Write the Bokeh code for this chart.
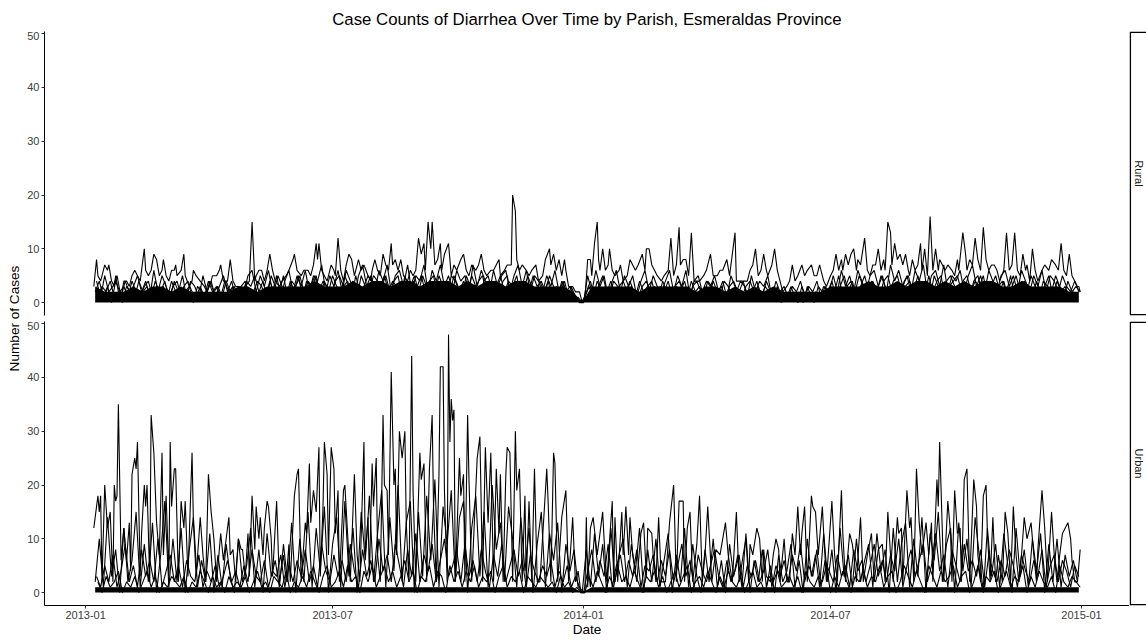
import numpy as np
import pandas as pd
from math import pi
from bokeh.plotting import figure
from bokeh.layouts import row, column
from bokeh.models import Range1d, FixedTicker, DatetimeTickFormatter
from bokeh.core.properties import value
from bokeh.embed import file_html
from bokeh.resources import INLINE

# ---------------- data ----------------
ORIGIN = "2013-01-01"          # day 0 of the day offsets below
title_text = "Case Counts of Diarrhea Over Time by Parish, Esmeraldas Province"
x_title = "Date"
y_title = "Number of Cases"
facets = ["Rural", "Urban"]
y_ticks = [0, 10, 20, 30, 40, 50]
x_tick_dates = ["2013-01-01", "2013-07-01", "2014-01-01", "2014-07-01", "2015-01-01"]

# Urban: highest parish line, (day offset, cases)
urban_peak = [
    (6,12),(9,18),(10,15),(11,18),(12,2),(14,20),(16,12),(18,15),(20,2),(21,20),(22,17),(23,18),(24,35),(26,6),
    (28,12),(30,6),(32,13),(33,4),(34,22),(36,25),(37,23),(38,28),(40,3),(41,11),(43,20),(44,16),(45,20),(47,2),
    (48,33),(50,26),(52,13),(54,7),(56,26),(57,7),(59,18),(61,3),(62,28),(63,16),(65,23),(66,23),(68,2),(70,17),
    (72,12),(73,17),(75,3),(78,26),(79,13),(81,3),(84,14),(86,7),(88,2),(90,22),(92,15),(94,10),(96,2),(99,11),
    (101,6),(105,14),(106,7),(108,8),(110,2),(112,10),(114,8),(115,8),(117,3),(119,11),(120,3),(122,18),(124,8),
    (125,16),(127,10),(128,14),(130,7),(131,12),(133,17),(134,16),(136,10),(137,3),(140,17),(142,2),(145,7),
    (147,2),(149,9),(150,2),(153,18),(155,22),(156,23),(158,2),(161,13),(162,11),(164,24),(165,13),(167,19),
    (169,15),(171,27),(172,3),(174,16),(175,28),(177,22),(178,7),(180,27),(182,23),(183,11),(185,19),(186,2),
    (189,19),(190,20),(192,11),(194,2),(197,22),(199,7),(201,2),(204,28),(205,7),(207,14),(208,3),(210,24),
    (211,16),(213,25),(214,7),(216,2),(218,33),(219,20),(221,19),(222,7),(224,41),(226,20),(227,23),(228,7),
    (230,30),(232,25),(234,30),(235,13),(237,2),(239,44),(240,19),(242,2),(245,26),(246,21),(248,24),(250,2),
    (252,23),(254,33),(255,16),(257,2),(259,22),(260,42),(262,42),(263,19),(265,2),(266,48),(267,28),(268,36),
    (269,32),(270,34),(271,2),(274,25),(275,18),(277,22),(278,2),(280,33),(281,21),(283,2),(287,25),(289,29),
    (291,2),(293,27),(295,13),(297,26),(299,2),(301,23),(303,11),(304,22),(306,2),(308,22),(309,27),(311,26),
    (313,2),(315,30),(316,19),(318,23),(320,2),(322,18),(323,2),(325,17),(327,2),(329,23),(331,2),(333,2),
    (338,23),(339,17),(341,2),(343,26),(344,24),(346,2),(349,14),(352,19),(354,2),(357,14),(359,2),(361,4),
    (363,0),(366,0),(367,14),(368,1),(370,12),(372,14),(375,7),(379,15),(380,10),(382,2),(386,17),(387,2),
    (388,14),(390,2),(393,15),(394,7),(396,16),(398,7),(399,14),(401,7),(404,2),(407,11),(409,13),(411,3),
    (412,12),(415,11),(416,7),(418,2),(420,14),(422,2),(425,2),(428,13),(431,20),(433,2),(435,17),(438,17),
    (439,2),(441,12),(443,15),(445,2),(448,9),(450,18),(452,2),(454,7),(456,16),(459,2),(462,8),(465,7),
    (469,13),(471,7),(474,2),(477,15),(479,2),(482,7),(484,10),(486,2),(487,9),(489,7),(492,12),(494,10),
    (496,2),(497,8),(499,3),(502,2),(504,7),(506,10),(508,8),(509,2),(512,10),(514,2),(516,2),(518,11),
    (520,7),(522,16),(524,7),(525,11),(527,16),(529,2),(532,18),(533,16),(535,15),(537,7),(540,16),(541,11),
    (543,2),(547,17),(549,7),(551,2),(554,19),(555,11),(557,2),(560,11),(562,9),(563,7),(565,2),(568,14),
    (570,2),(573,7),(576,11),(578,2),(581,8),(584,9),(586,2),(588,15),(590,7),(592,2),(595,14),(596,11),
    (598,12),(599,2),(602,19),(604,12),(605,14),(607,2),(609,23),(611,13),(613,7),(616,13),(618,7),(620,13),
    (621,2),(624,21),(625,16),(626,28),(628,11),(629,2),(632,17),(634,11),(635,2),(637,19),(639,11),(641,12),
    (642,2),(644,21),(646,23),(647,13),(648,2),(651,21),(653,16),(654,7),(656,2),(658,18),(660,20),(661,11),
    (663,2),(665,14),(667,2),(669,7),(672,2),(674,15),(676,11),(678,2),(680,16),(682,7),(684,2),(686,7),
    (688,14),(690,10),(693,13),(695,7),(697,2),(698,8),(701,19),(703,12),(705,2),(708,15),(710,7),(712,2),
    (714,7),(716,11),(720,13),(722,10),(723,6),(725,2),(727,2),(729,8),
]

# Urban: second-highest parish, every 3 days from 2013-01-08
urban_second_start = "2013-01-08"
urban_second = [
    2,10,1,14,3,8,0,12,2,6, 15,1,9,2,13,0,7,17,1,10, 2,12,0,8,14,1,6,2,11,0, 7,1,9,3,0,10,2,5,12,1,
    8,0,11,3,6,1,9,2,13,0, 10,2,15,1,12,4,16,0,9,14, 1,17,3,12,0,15,6,18,2,11, 19,1,14,4,20,2,13,17,0,15,
    3,18,6,21,1,16,9,19,2,14, 17,0,12,18,3,15,1,20,8,13, 2,16,10,1,14,4,12,0,9,15, 1,11,6,13,0,9,4,8,1,0,
    8,1,11,3,9,0,12,2,7,10, 1,9,4,12,0,8,2,10,1,6, 11,0,7,2,12,1,9,3,0,8, 2,10,1,6,0,9,3,7,1,11,
    0,6,2,8,1,5,0,7,2,4, 9,1,6,0,10,3,7,1,11,2, 8,0,12,3,7,1,10,2,6,9, 1,11,4,8,0,12,2,9,13,1,
    10,3,14,0,11,6,15,2,9,12, 0,13,4,10,1,14,7,0,12,3, 9,1,11,5,0,12,3,8,1,10, 4,11,0,9,2,10,1,7,3,6, 2,
]

# Urban: mid-level parishes, every 3 days from 2013-01-09
urban_mid_start = "2013-01-09"
urban_mid = [
    3,1,5,2,7,1,4,9,2,5, 1,8,3,6,2,10,1,4,7,2, 5,1,6,3,2,7,1,4,2,5, 1,3,6,2,4,1,5,2,8,3,
    2,6,1,4,3,7,1,5,2,6, 3,8,2,5,1,9,4,2,7,3, 6,2,9,4,1,8,3,6,2,10, 4,7,2,9,5,1,8,3,11,2,
    7,4,9,2,6,10,3,5,8,2, 9,3,6,2,8,4,1,7,3,9, 2,5,8,3,6,1,7,4,2,5, 3,6,1,4,2,5,1,3,1,0,
    4,8,2,6,3,9,1,5,7,2, 6,3,8,1,5,4,7,2,6,3, 8,2,5,9,3,6,1,7,4,2, 5,8,3,1,6,2,4,7,1,5,
    3,6,2,4,8,1,5,3,6,2, 7,4,9,2,5,3,8,1,6,4, 2,7,3,5,1,8,4,6,2,5, 9,3,6,2,7,4,10,1,5,8,
    3,6,9,2,5,11,4,7,1,8, 5,2,9,4,6,3,8,1,7,4, 2,6,3,8,5,1,7,4,2,6, 3,8,1,5,7,2,6,4,1,5, 3,
]

# Urban: low-count parishes, every 3 days from 2013-01-10
urban_low_start = "2013-01-10"
urban_low = [
    2,0,3,1,2,4,0,2,1,3, 0,2,4,1,3,0,2,1,3,2, 1,3,0,2,1,4,2,0,3,1, 2,0,3,1,2,1,3,0,2,4,
    1,2,0,3,2,1,4,0,2,1, 3,1,4,2,0,3,5,1,2,4, 1,5,2,3,0,4,2,5,1,3, 5,2,4,1,3,6,2,4,0,3,
    2,5,1,4,3,0,5,2,4,1, 4,2,5,1,3,2,4,0,3,5, 1,3,2,4,0,3,2,1,3,2, 1,2,0,3,1,2,0,1,0,0,
    3,1,4,2,0,3,1,5,2,3, 1,4,2,0,3,2,4,1,3,0, 2,4,1,3,5,0,2,3,1,4, 2,0,3,1,4,2,1,3,0,2,
    4,1,2,0,3,2,4,1,2,3, 1,3,0,4,2,1,3,2,5,0, 3,1,4,2,0,3,2,4,1,3, 2,5,1,3,4,0,2,5,3,1,
    4,2,0,5,3,1,4,2,3,5, 1,3,4,0,2,5,1,3,2,4, 0,2,4,1,3,2,5,0,3,1, 4,2,1,3,0,5,2,1,3,2, 1,
]

# Urban: weekly floor of the many near-zero parishes, from 2013-01-08
urban_floor_start = "2013-01-08"
urban_floor = [
    1,1,1,1,1,1,1,1,1,1, 1,1,1,1,1,1,1,1,1,1, 1,1,1,1,1,1,1,1,1,1, 1,1,1,1,1,1,1,1,1,1,
    1,1,1,1,1,1,1,1,1,1, 1,0,1,1,1,1,1,1,1,1, 1,1,1,1,1,1,1,1,1,1, 1,1,1,1,1,1,1,1,1,1,
    1,1,1,1,1,1,1,1,1,1, 1,1,1,1,1,1,1,1,1,1, 1,1,1,1,
]

# Rural: upper envelope of the parish lines, (day offset, cases)
rural_peak = [
    (6,3),(8,8),(9,5),(11,4),(13,6),(14,7),(16,6),(17,7),(19,4),(21,3),(22,5),(24,2),(26,1),(28,4),(30,4),
    (32,3),(34,5),(36,6),(38,5),(40,4),(43,10),(44,6),(46,5),(48,6),(50,9),(52,8),(54,5),(56,6),(57,8),(59,5),
    (61,4),(63,6),(65,6),(66,7),(67,5),(70,6),(72,9),(73,5),(76,3),(78,4),(79,6),(81,5),(84,4),(87,3),(89,2),
    (92,4),(93,5),(96,5),(98,6),(99,7),(101,4),(104,4),(106,8),(108,4),(110,3),(112,3),(115,2),(117,3),(120,4),
    (122,15),(124,4),(125,5),(127,6),(129,6),(131,4),(133,6),(135,9),(137,6),(139,4),(142,3),(144,4),(147,5),
    (149,6),(152,8),(153,9),(155,6),(158,5),(160,6),(163,6),(165,5),(167,7),(169,11),(170,8),(171,11),(173,6),
    (175,5),(177,4),(180,7),(182,6),(183,5),(185,12),(187,6),(189,4),(191,7),(193,9),(195,8),(197,5),(198,6),
    (200,8),(202,6),(204,7),(207,5),(209,4),(210,6),(212,8),(214,6),(216,5),(218,9),(220,7),(222,6),(224,11),
    (225,7),(227,8),(229,6),(231,8),(233,5),(236,4),(238,6),(240,5),(242,6),(244,12),(246,9),(248,11),(249,6),
    (251,15),(253,10),(254,15),(256,7),(258,8),(260,11),(261,6),(263,9),(266,11),(268,5),(270,7),(272,6),
    (275,8),(277,9),(279,6),(281,5),(283,7),(286,6),(288,7),(290,9),(292,6),(294,5),(297,6),(299,6),(303,8),
    (304,5),(307,6),(309,7),(312,7),(313,20),(315,17),(316,8),(318,6),(320,7),(323,6),(325,5),(327,6),(330,7),
    (332,4),(335,5),(337,8),(340,10),(341,7),(343,9),(345,6),(347,8),(349,5),(351,8),(352,6),(354,3),(357,3),
    (359,2),(362,2),(364,0),(366,1),(368,8),(370,8),(371,5),(373,11),(375,15),(376,8),(377,6),(379,10),(381,6),
    (383,7),(384,10),(386,6),(388,5),(391,6),(392,7),(394,4),(397,5),(399,8),(401,7),(403,6),(405,7),(408,9),
    (410,6),(411,10),(413,10),(415,7),(417,6),(419,5),(422,4),(424,5),(427,6),(429,12),(431,5),(433,7),(435,14),
    (436,7),(438,8),(440,8),(442,5),(444,13),(446,4),(448,4),(450,4),(453,5),(455,6),(458,9),(460,5),(463,5),
    (465,6),(467,6),(470,8),(472,5),(476,13),(477,4),(480,4),(482,4),(485,4),(487,6),(489,7),(491,10),(493,5),
    (495,6),(497,9),(499,6),(500,5),(503,7),(505,10),(507,6),(509,4),(511,2),(514,3),(516,4),(518,7),(520,4),
    (522,5),(525,7),(527,5),(529,6),(532,7),(534,5),(536,5),(538,7),(541,4),(543,3),(546,5),(548,6),(550,9),
    (552,6),(554,8),(555,6),(557,9),(559,7),(561,9),(563,10),(565,6),(566,8),(568,7),(571,12),(573,6),(575,5),
    (577,7),(579,7),(581,10),(583,6),(585,8),(586,6),(588,15),(590,13),(591,7),(593,11),(595,8),(597,9),
    (599,7),(601,9),(603,6),(604,5),(606,8),(608,6),(610,7),(612,11),(613,6),(615,10),(617,5),(619,16),(621,6),
    (623,10),(625,6),(626,8),(628,7),(630,6),(632,7),(635,6),(637,5),(639,8),(640,6),(643,13),(645,9),(646,6),
    (648,8),(650,7),(652,12),(654,8),(656,6),(658,14),(660,8),(662,6),(664,7),(666,7),(668,6),(670,4),(673,6),
    (675,13),(677,6),(679,7),(681,13),(683,6),(685,5),(687,9),(689,6),(690,7),(692,4),(694,10),(696,6),(698,4),
    (701,6),(703,7),(706,6),(708,8),(711,7),(713,6),(715,11),(717,6),(719,5),(721,9),(723,5),(725,4),(727,3),
    (728,3),(729,2),
]

# Rural: mid-level parishes, every 3 days from 2013-01-09
rural_mid_start = "2013-01-09"
rural_mid = [
    4,1,5,2,3,5,1,4,2,3, 5,2,4,1,6,2,5,3,1,4, 2,5,1,4,3,1,5,2,4,1, 3,5,2,4,1,3,2,5,6,2,
    5,3,6,2,5,1,4,6,2,5, 3,6,2,5,4,7,2,5,3,6, 2,6,4,1,5,7,3,5,2,6, 4,7,2,5,6,3,7,2,5,4,
    7,2,6,4,7,3,5,2,6,4, 5,2,7,3,6,4,2,6,3,5, 6,2,5,7,3,6,2,5,4,2, 5,3,6,2,4,1,3,1,0,0,
    5,2,6,3,5,1,4,6,2,5, 3,5,1,4,6,2,5,3,2,4, 6,2,5,3,6,1,4,5,2,4, 3,5,2,4,1,5,3,2,4,1,
    5,2,4,3,5,1,4,2,3,1, 3,2,4,1,3,2,4,1,3,2, 5,2,6,3,5,2,6,4,2,5, 6,3,5,2,7,4,6,3,5,2,
    6,4,7,2,5,6,3,7,2,5, 4,6,2,5,7,3,5,2,6,4, 2,5,6,3,5,2,6,4,2,5, 3,6,2,5,4,2,5,3,2,4, 2,
]

# Rural: low-count parishes A, every 3 days from 2013-01-08
rural_low_a_start = "2013-01-08"
rural_low_a = [
    2,4,1,3,0,4,2,3,1,4, 2,1,3,4,1,3,2,4,1,3, 4,1,2,3,0,3,2,1,4,2, 3,1,4,2,3,1,2,4,3,5,
    2,4,1,5,3,2,5,1,4,3, 5,2,4,3,5,1,4,2,5,3, 2,5,3,4,1,5,3,2,5,4, 3,5,2,4,5,1,4,3,5,2,
    5,3,4,2,5,3,1,5,4,2, 4,2,5,3,1,4,5,2,3,5, 2,4,3,5,1,4,2,5,3,4, 2,5,3,1,4,2,3,1,1,0,
    2,4,1,3,5,2,4,1,3,4, 2,3,1,4,2,3,4,1,3,2, 4,1,3,2,4,1,3,4,2,3, 1,4,2,3,1,3,4,2,1,3,
    4,2,3,1,4,2,3,1,2,1, 3,1,2,0,3,1,2,1,3,2, 4,1,3,5,2,4,1,3,5,2, 4,2,5,3,1,4,5,2,3,4,
    2,5,3,4,1,5,3,2,4,5, 3,1,4,5,2,4,3,5,1,3, 5,2,4,1,3,5,2,4,3,1, 4,2,3,5,1,4,2,3,1,2, 1,
]

# Rural: low-count parishes B, every 3 days from 2013-01-10
rural_low_b_start = "2013-01-10"
rural_low_b = [
    1,3,2,4,1,2,0,3,2,1, 4,2,3,1,4,2,3,1,4,2, 1,3,4,2,1,3,1,4,2,3, 1,4,2,3,1,3,4,1,2,4,
    3,1,4,2,5,3,1,4,2,5, 1,4,3,5,2,4,3,1,4,5, 3,4,1,5,2,3,5,4,1,3, 5,2,4,3,1,5,2,4,3,5,
    2,4,5,1,3,4,2,5,3,1, 5,3,2,4,5,1,3,4,2,4, 5,1,3,4,2,5,3,1,4,2, 4,1,3,2,4,1,2,1,0,1,
    3,1,4,2,3,1,4,3,1,2, 4,2,1,3,4,2,3,1,4,2, 1,3,4,2,1,4,2,3,1,4, 3,2,1,4,3,1,2,4,3,1,
    2,4,1,3,2,1,3,0,2,1, 2,0,3,1,2,0,3,2,1,3, 2,5,1,3,4,2,5,3,1,4, 3,1,4,5,2,3,1,4,5,2,
    4,3,1,5,2,4,5,1,3,4, 5,2,3,1,4,5,2,3,4,1, 3,4,2,5,1,3,4,2,5,3, 1,4,3,2,5,3,1,4,2,3, 2,
]

# Rural: weekly top of the solid mass of low counts, from 2013-01-08
rural_floor_start = "2013-01-08"
rural_floor = [
    3,2,2,2,3,2,3,3,2,3, 2,2,2,2,2,3,3,2,3,3, 3,3,3,4,3,3,3,4,3,4, 4,3,4,4,3,4,4,4,3,4,
    3,4,4,3,4,4,3,3,3,3, 2,0,3,3,3,3,3,2,3,3, 3,3,3,2,3,3,2,3,2,3, 2,3,2,2,2,2,2,3,3,3,
    3,4,3,3,4,3,4,4,3,4, 3,4,3,4,4,3,3,4,3,3, 3,3,2,2,
]

# ---------------- helpers ----------------
BASE_MS = pd.Timestamp(ORIGIN).value / 1e6
DAY_MS = 86400000.0


def day_ms(days):
    return BASE_MS + np.asarray(days, dtype=float) * DAY_MS


def grid_ms(start, n, step_days):
    return pd.Timestamp(start).value / 1e6 + np.arange(n) * step_days * DAY_MS


def date_ms(s):
    return pd.Timestamp(s).value / 1e6


FONT = "Liberation Sans"
LW = 1.1

all_days = [d for d, _ in urban_peak] + [d for d, _ in rural_peak]
d0, d1 = min(all_days), max(all_days)
pad = 0.05 * (d1 - d0)
x_range = Range1d(float(day_ms(d0 - pad)), float(day_ms(d1 + pad)))

ymax = max(v for _, v in urban_peak)
y_lo, y_hi = -0.05 * ymax, ymax * 1.05

# layout sizes (pixels)
TOTAL_W, TOTAL_H = 1146, 641
YLAB_W = 22
LEFT_B = 22
FRAME_W, FRAME_H = 1085, 284
STRIP_W = TOTAL_W - YLAB_W - LEFT_B - FRAME_W
TITLE_H = 31
GAP = 6
BOTTOM_B = TOTAL_H - TITLE_H - FRAME_H - GAP - FRAME_H


def style_axis(ax):
    ax.axis_line_color = "black"
    ax.axis_line_width = 1
    ax.major_tick_line_color = "#333333"
    ax.major_tick_out = 3
    ax.major_tick_in = 0
    ax.minor_tick_line_color = None
    ax.major_label_text_font = FONT
    ax.major_label_text_font_size = "11px"
    ax.major_label_text_color = "#404040"
    ax.major_label_standoff = 2


def make_panel(bottom_b, show_x):
    p = figure(frame_width=FRAME_W, frame_height=FRAME_H, x_axis_type="datetime",
               x_range=x_range, y_range=Range1d(y_lo, y_hi),
               output_backend="svg", toolbar_location=None,
               x_axis_location="below" if show_x else None,
               min_border_left=LEFT_B, min_border_right=0,
               min_border_top=0, min_border_bottom=bottom_b)
    p.outline_line_color = None
    p.grid.visible = False
    p.background_fill_color = "white"
    p.border_fill_color = "white"
    style_axis(p.yaxis[0])
    p.yaxis.ticker = FixedTicker(ticks=y_ticks)
    if show_x:
        style_axis(p.xaxis[0])
        p.xaxis.ticker = FixedTicker(ticks=[date_ms(s) for s in x_tick_dates])
        fmt = "%Y-%m"
        p.xaxis.formatter = DatetimeTickFormatter(
            milliseconds=fmt, seconds=fmt, minsec=fmt, minutes=fmt, hourmin=fmt, hours=fmt,
            days=fmt, months=fmt, years=fmt)
        p.xaxis.axis_label = x_title
        p.xaxis.axis_label_text_font = FONT
        p.xaxis.axis_label_text_font_size = "13.6px"
        p.xaxis.axis_label_text_font_style = "normal"
        p.xaxis.axis_label_text_color = "black"
        p.xaxis.axis_label_standoff = 0
    return p


def make_strip(name, bottom_b):
    # pixel-unit ranges; the box's right edge lies beyond the page edge, as in the reference
    s = figure(frame_width=STRIP_W, frame_height=FRAME_H, x_range=Range1d(0, STRIP_W),
               y_range=Range1d(0, FRAME_H),
               output_backend="svg", toolbar_location=None,
               x_axis_location=None, y_axis_location=None,
               min_border_left=0, min_border_right=0, min_border_top=0, min_border_bottom=bottom_b)
    s.grid.visible = False
    s.outline_line_color = None
    s.background_fill_color = "white"
    s.border_fill_color = "white"
    s.quad(left=[0.8], right=[STRIP_W + 6], bottom=[0.7], top=[FRAME_H - 0.7],
           fill_color=None, line_color="black", line_width=1.5)
    s.text(x=[9], y=[FRAME_H / 2], text=[name], angle=-pi / 2, text_align="center", text_baseline="middle",
           text_font=value(FONT), text_font_size="11px", text_color="#1A1A1A")
    return s


def blank(w, h):
    b = figure(frame_width=w, frame_height=h, x_range=Range1d(0, w), y_range=Range1d(0, h),
               output_backend="svg", toolbar_location=None, x_axis_location=None, y_axis_location=None,
               min_border=0)
    b.grid.visible = False
    b.outline_line_color = None
    b.background_fill_color = "white"
    b.border_fill_color = "white"
    return b


# ---------------- title ----------------
title_fig = blank(TOTAL_W - YLAB_W, TITLE_H)
title_fig.text(x=[LEFT_B + FRAME_W / 2], y=[TITLE_H - 18.5], text=[title_text],
               text_align="center", text_baseline="middle",
               text_font=value(FONT), text_font_size="16.8px", text_color="black")

# ---------------- Rural panel ----------------
top = make_panel(GAP, False)
top.varea(x=grid_ms(rural_floor_start, len(rural_floor), 7), y1=0, y2=rural_floor, fill_color="black")
top.line(grid_ms(rural_low_a_start, len(rural_low_a), 3), rural_low_a, line_color="black", line_width=LW)
top.line(grid_ms(rural_low_b_start, len(rural_low_b), 3), rural_low_b, line_color="black", line_width=LW)
top.line(grid_ms(rural_mid_start, len(rural_mid), 3), rural_mid, line_color="black", line_width=LW)
top.line(day_ms([d for d, _ in rural_peak]), [v for _, v in rural_peak], line_color="black", line_width=LW)

# ---------------- Urban panel ----------------
bot = make_panel(BOTTOM_B, True)
bot.varea(x=grid_ms(urban_floor_start, len(urban_floor), 7), y1=0, y2=urban_floor, fill_color="black")
bot.line(grid_ms(urban_low_start, len(urban_low), 3), urban_low, line_color="black", line_width=LW)
bot.line(grid_ms(urban_mid_start, len(urban_mid), 3), urban_mid, line_color="black", line_width=LW)
bot.line(grid_ms(urban_second_start, len(urban_second), 3), urban_second, line_color="black", line_width=LW)
bot.line(day_ms([d for d, _ in urban_peak]), [v for _, v in urban_peak], line_color="black", line_width=LW)

strip_top = make_strip(facets[0], GAP)
strip_bot = make_strip(facets[1], BOTTOM_B)

# ---------------- shared y-axis title ----------------
ylab = blank(YLAB_W, TOTAL_H)
panels_mid = TITLE_H + (FRAME_H * 2 + GAP) / 2
ylab.text(x=[14], y=[TOTAL_H - panels_mid], text=[y_title], angle=pi / 2,
          text_align="center", text_baseline="middle",
          text_font=value(FONT), text_font_size="13.6px", text_color="black")

layout = row(ylab, column(title_fig, row(top, strip_top), row(bot, strip_bot)))

open("out.html", "w").write(file_html(layout, INLINE, title="Case Counts of Diarrhea"))
